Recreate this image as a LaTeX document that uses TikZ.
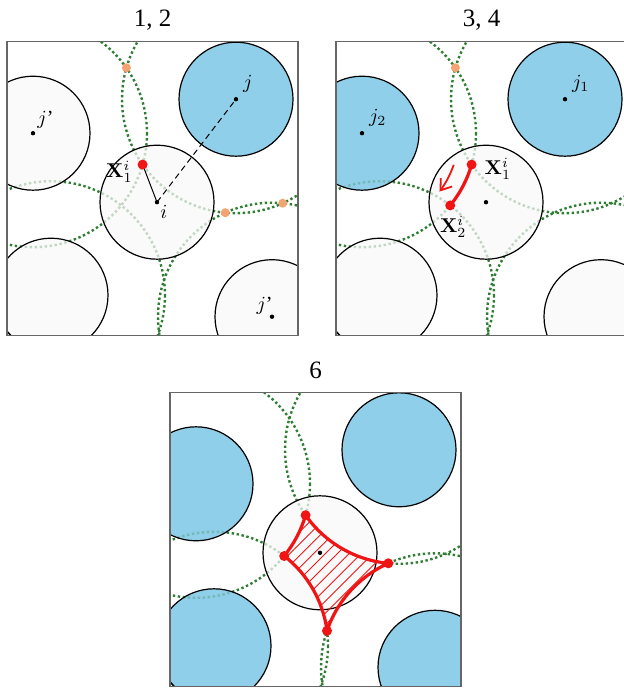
\documentclass[tikz,border=0pt]{standalone}
\usepackage[no-math]{fontspec}
\setmainfont{Liberation Serif}
\usepackage{amsmath}
\usetikzlibrary{arrows.meta,patterns.meta}
\definecolor{SkyFill}{HTML}{8FCFE9}
\definecolor{PaleFill}{HTML}{FAFAFA}
\definecolor{PathGreen}{HTML}{2E7D32}
\definecolor{DotOrange}{HTML}{F4A373}
\definecolor{CellRed}{HTML}{F01414}

\begin{document}
\begin{tikzpicture}[x=0.5pt,y=-0.5pt,
frame/.style={draw=black!60,line width=0.6pt},
rim/.style={draw=black,line width=0.6pt},
greenpath/.style={draw=PathGreen,line width=1.2pt,dash pattern=on 1.2pt off 1.3pt},
fade/.style={fill=#1,fill opacity=0.72},
lbl/.style={font=\fontsize{10}{12}\selectfont},
paneltitle/.style={font=\fontsize{12.5}{14}\selectfont}
]
\useasboundingbox (0,0) rectangle (624,689);
\clip (0,0) rectangle (624,689);

% the three panels share one packing of discs
\foreach \px/\py/\pn/\fa/\fc/\ttl in {7/41.7/a/PaleFill/PaleFill/{1, 2},336/41.7/b/SkyFill/PaleFill/{3, 4},170/392.3/c/SkyFill/SkyFill/6}{
\begin{scope}[shift={(\px,\py)}]
\coordinate (\pn-i) at (150,160.5);
\coordinate (\pn-A) at (26,91.5);
\coordinate (\pn-B) at (229,57.5);
\coordinate (\pn-C) at (44,253.5);
\coordinate (\pn-D) at (265,275);
\coordinate (\pn-E) at (-40,330);
\coordinate (\pn-x1) at (135.6,122.9);
\coordinate (\pn-x2) at (114.2,163.7);
\coordinate (\pn-x3) at (218.3,171.0);
\coordinate (\pn-x4) at (157.0,238.5);
\coordinate (\pn-top) at (119.4,26.1);
\coordinate (\pn-rt) at (275.7,161.5);
\node[paneltitle] (\pn-title) at (145.5,-21.5) {\ttl};
\begin{scope}
\clip (0,0) rectangle (291,294);
\fill[PaleFill] (\pn-i) circle[radius=57];
\fill[\fa] (\pn-A) circle[radius=57];
\fill[SkyFill] (\pn-B) circle[radius=57];
\fill[\fc] (\pn-C) circle[radius=57];
\fill[\fc] (\pn-D) circle[radius=57];
\fill[PaleFill] (\pn-E) circle[radius=57];
\foreach \k in {A,B,C,D}
  \draw[greenpath] (\pn-\k) circle[radius=114];
\fill[fade=PaleFill] (\pn-i) circle[radius=57];
\fill[fade=\fa] (\pn-A) circle[radius=57];
\fill[fade=SkyFill] (\pn-B) circle[radius=57];
\fill[fade=\fc] (\pn-C) circle[radius=57];
\fill[fade=\fc] (\pn-D) circle[radius=57];
\foreach \k in {i,A,B,C,D,E}
  \draw[rim] (\pn-\k) circle[radius=57];
\end{scope}
\draw[frame] (0,0) rectangle (291,294);
\end{scope}
}

% 1, 2
\draw[line width=0.5pt] (a-i) -- (a-x1);
\draw[line width=0.5pt,densely dashed] (a-i) -- (a-B);
\foreach \k in {i,A,B,D}
  \fill (a-\k) circle[radius=2.2];
\fill[CellRed] (a-x1) circle[radius=5];
\foreach \k in {top,x3,rt}
  \fill[DotOrange] (a-\k) circle[radius=4.5];
\node[lbl,anchor=south west] (a-jlab) at (a-B) {$j$};
\node[lbl,anchor=south west,inner sep=2pt] (a-jplab) at (a-A) {$j$'};
\node[lbl,anchor=south east,inner sep=1pt] (a-jqlab) at ([shift={(3,0)}]a-D) {$j$'};
\node[lbl,anchor=north west,inner sep=1.5pt] (a-ilab) at (a-i) {$i$};
\node[lbl,anchor=east] (a-xlab) at ([shift={(-3,7)}]a-x1) {$\mathbf{X}_1^i$};

% 3, 4
\draw[CellRed,line width=1.6pt] (b-x1) arc[start angle=16.0,end angle=39.3,radius=114];
\draw[CellRed,line width=0.9pt,-{Straight Barb[length=5pt,width=7pt]}]
  ([shift={(19:97)}]b-A) arc[start angle=19,end angle=37,radius=97];
\foreach \k in {i,A,B}
  \fill (b-\k) circle[radius=2.2];
\foreach \k in {x1,x2}
  \fill[CellRed] (b-\k) circle[radius=5];
\fill[DotOrange] (b-top) circle[radius=4.5];
\node[lbl,anchor=south west] (b-jlab) at (b-B) {$j_1$};
\node[lbl,anchor=south west] (b-jplab) at (b-A) {$j_2$};
\node[lbl,anchor=west] (b-xlab) at ([shift={(6,4)}]b-x1) {$\mathbf{X}_1^i$};
\node[lbl,anchor=north] (b-ylab) at ([shift={(3,4)}]b-x2) {$\mathbf{X}_2^i$};

% 6
\draw[CellRed,line width=1.6pt,pattern={Lines[angle=45,distance=4.2pt,line width=0.45pt]},pattern color=CellRed]
  (c-x1) arc[start angle=145.0,end angle=95.4,radius=114]
  arc[start angle=-114.2,end angle=-161.3,radius=114]
  arc[start angle=-7.56,end angle=-52.0,radius=114]
  arc[start angle=39.3,end angle=16.0,radius=114] -- cycle;
\fill (c-i) circle[radius=2.2];
\foreach \k in {x1,x2,x3,x4}
  \fill[CellRed] (c-\k) circle[radius=5];
\end{tikzpicture}
\end{document}
